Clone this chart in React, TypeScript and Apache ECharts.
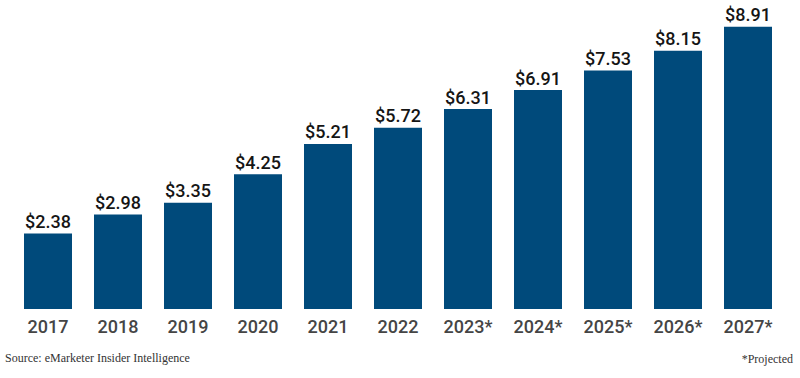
import React, { useEffect, useRef } from "react";
import * as echarts from "echarts";

const categories = ["2017", "2018", "2019", "2020", "2021", "2022", "2023*", "2024*", "2025*", "2026*", "2027*"];
const values = [2.38, 2.98, 3.35, 4.25, 5.21, 5.72, 6.31, 6.91, 7.53, 8.15, 8.91];
const sourceText = "Source: eMarketer Insider Intelligence";
const noteText = "*Projected";

export default function App() {
  const ref = useRef<HTMLDivElement>(null);
  useEffect(() => {
    if (!ref.current) return;
    const chart = echarts.init(ref.current, null, { renderer: "svg" });
    chart.setOption({
      animation: false,
      backgroundColor: "#ffffff",
      grid: { left: 13, right: 17, top: 8, height: 301, containLabel: false },
      xAxis: {
        type: "category",
        data: categories,
        axisLine: { show: false },
        axisTick: { show: false },
        axisLabel: {
          color: "#454545",
          fontFamily: "Roboto",
          fontSize: 18,
          fontWeight: 500,
          margin: 8,
        },
      },
      yAxis: {
        type: "value",
        min: 0,
        max: 9.5,
        show: false,
        splitLine: { show: false },
      },
      series: [
        {
          type: "bar",
          data: values,
          barWidth: 48,
          itemStyle: { color: "#004a7b" },
          label: {
            show: true,
            position: "top",
            distance: 3,
            color: "#151515",
            fontFamily: "Roboto",
            fontSize: 18,
            fontWeight: 500,
            formatter: (p: any) => "$" + p.value.toFixed(2),
          },
        },
      ],
      graphic: [
        {
          type: "text",
          left: 5,
          top: 352,
          style: { text: sourceText, fontFamily: "Liberation Serif", fontSize: 12, fill: "#333333" },
        },
        {
          type: "text",
          right: 7,
          top: 353,
          style: { text: noteText, fontFamily: "Liberation Serif", fontSize: 12, fill: "#333333" },
        },
      ],
    });
    return () => chart.dispose();
  }, []);
  return <div ref={ref} style={{ width: 800, height: 378, position: "absolute", left: 0, top: 0 }} />;
}
